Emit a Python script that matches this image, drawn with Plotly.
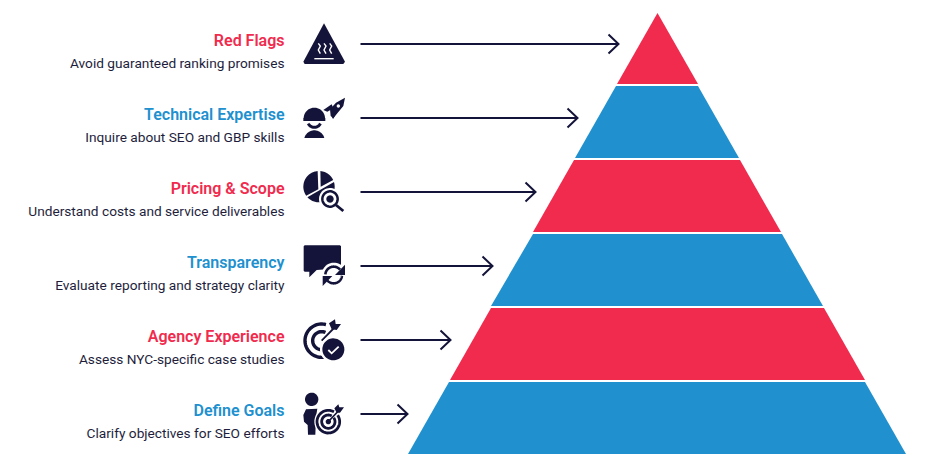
import numpy as np
import plotly.graph_objects as go

titles = ["Red Flags", "Technical Expertise", "Pricing & Scope", "Transparency", "Agency Experience", "Define Goals"]
subtitles = ["Avoid guaranteed ranking promises", "Inquire about SEO and GBP skills",
             "Understand costs and service deliverables", "Evaluate reporting and strategy clarity",
             "Assess NYC-specific case studies", "Clarify objectives for SEO efforts"]
level_top = [13, 86, 160, 234, 308, 382]
level_bottom = [84, 158, 232, 306, 380, 454]
left_top = [657.5, 616, 574, 533, 491, 449]
right_top = [657.5, 698, 740, 782, 824, 865]
left_bottom = [617, 575, 533, 491, 450, 408]
right_bottom = [698, 739, 781, 823, 865, 906]
title_y = [41.5, 115.5, 189.5, 263.5, 337.5, 411.5]
sub_y = [64.5, 139, 213, 287, 361, 434.5]
arrow_y = [44, 118, 192, 266, 340, 414]
arrow_start = [360.5] * 6
arrow_tip = [618.5, 577.5, 535.5, 492.5, 450.5, 407.5]

RED, BLUE, NAVY = "#F02B4E", "#2090CF", "#14143A"
colors = [RED, BLUE, RED, BLUE, RED, BLUE]

fig = go.Figure()
for i in range(6):
    fig.add_trace(go.Scatter(
        x=[left_top[i], right_top[i], right_bottom[i], left_bottom[i]],
        y=[level_top[i], level_top[i], level_bottom[i], level_bottom[i]],
        fill="toself", fillcolor=colors[i], mode="lines", line=dict(width=0),
        name=titles[i], hoverinfo="name"))
    x, y, t = arrow_start[i], arrow_y[i], arrow_tip[i]
    fig.add_trace(go.Scatter(
        x=[x, t, None, t - 10, t, t - 10], y=[y, y, None, y - 9.5, y, y + 9.5],
        mode="lines", line=dict(color=NAVY, width=2), hoverinfo="skip"))

fig.add_trace(go.Scatter(
    x=[284.5] * 6, y=title_y, text=titles, mode="text", textposition="middle left",
    textfont=dict(family="Roboto", size=16, weight=600, color=colors), hoverinfo="skip"))
fig.add_trace(go.Scatter(
    x=[284.5] * 6, y=sub_y, text=subtitles, mode="text", textposition="middle left",
    textfont=dict(family="Roboto", size=13.7, color="#1E1E3C"), hoverinfo="skip"))

shapes = []
WHITE = "#FFFFFF"

def Z(ox, oy):
    return lambda p: (ox + p[0] / 3, oy + p[1] / 3)

def path(pts, close=True):
    return "M" + "L".join(f"{x:.2f},{y:.2f}" for x, y in pts) + ("Z" if close else "")

def fill(z, pts, c=NAVY):
    shapes.append(dict(type="path", path=path([z(p) for p in pts]), fillcolor=c,
                       line=dict(width=0), xref="x", yref="y"))

def stroke(z, pts, w, c=NAVY):
    shapes.append(dict(type="path", path=path([z(p) for p in pts], False),
                       line=dict(color=c, width=w), xref="x", yref="y"))

def arc(cx, cy, r, a0=0, a1=360, n=48):
    t = np.radians(np.linspace(a0, a1, n))
    return [(cx + r * np.cos(v), cy - r * np.sin(v)) for v in t]

def disc(z, cx, cy, r, c=NAVY):
    fill(z, arc(cx, cy, r), c)

# 1: warning triangle with heat waves
z = Z(280, 10)
fill(z, [(132, 40), (195, 155), (190, 162), (74, 162), (70, 155)])
stroke(z, [(103, 146), (161, 146)], 1.4, WHITE)
for dx in (0, 17, 34):
    stroke(z, [(115 + dx, 100), (121 + dx, 108), (115 + dx, 120), (121 + dx, 131)], 1.4, WHITE)

# 2: worker and rocket
z = Z(280, 10)
fill(z, arc(103, 325, 32, 0, 180))
fill(z, [(70, 324), (136, 324), (136, 333), (70, 333)])
stroke(z, arc(103, 332, 20, 205, 335), 3)
fill(z, arc(103, 392, 31, 15, 165))
fill(z, [(195, 263), (190, 288), (172, 310), (160, 325), (152, 318), (150, 298), (168, 278)])
fill(z, [(130, 300), (155, 283), (160, 295), (142, 305)])
stroke(z, [(158, 325), (165, 310)], 1.5)
disc(z, 175, 288, 5, WHITE)

# 3: pie and magnifier
z = Z(280, 160)
fill(z, arc(117, 80, 47, 95, 215) + [(115, 88)])
fill(z, arc(117, 80, 47, 25, 85) + [(122, 80)])
fill(z, arc(117, 80, 47, 222, 377))
disc(z, 150, 117, 33, WHITE)
stroke(z, arc(150, 117, 23), 2.5)
disc(z, 150, 117, 11)
stroke(z, [(168, 135), (190, 153)], 2.8)

# 4: speech bubble with refresh
fill(z, [(74, 256), (180, 256), (183, 259), (183, 325), (110, 330), (88, 352), (88, 335), (74, 335), (71, 332), (71, 259)])
disc(z, 162, 345, 37, WHITE)
stroke(z, arc(161, 345, 25, 40, 175), 2.6)
stroke(z, arc(161, 345, 25, 220, 355), 2.6)
fill(z, [(195, 314), (195, 345), (165, 345)])
fill(z, [(128, 378), (128, 348), (157, 348)])

# 5: target and check
z = Z(280, 310)
stroke(z, arc(125, 92, 50, 75, 290), 3.4)
stroke(z, arc(125, 92, 27, 65, 300), 3.4)
stroke(z, [(125, 92), (168, 48)], 1.8)
fill(z, [(147, 40), (165, 28), (167, 42), (183, 42), (170, 60), (155, 58)])
disc(z, 160, 118, 40, WHITE)
disc(z, 160, 118, 33)
stroke(z, [(145, 120), (155, 130), (176, 110)], 1.8, WHITE)

# 6: person and target
disc(z, 95, 268, 20)
fill(z, [(78, 298), (112, 296), (108, 320), (106, 374), (84, 374), (83, 345), (72, 335), (70, 315)])
disc(z, 145, 335, 42, WHITE)
stroke(z, arc(145, 335, 34, 60, 395), 2.8)
stroke(z, arc(145, 335, 20, 60, 395), 2.8)
disc(z, 145, 335, 8)
stroke(z, [(145, 335), (178, 300)], 1.6)
fill(z, [(163, 295), (175, 283), (178, 292), (192, 292), (180, 308), (170, 308)])

fig.update_layout(
    width=942, height=471, margin=dict(l=0, r=0, t=0, b=0), showlegend=False,
    paper_bgcolor="white", plot_bgcolor="white", shapes=shapes,
    xaxis=dict(range=[0, 942], visible=False, fixedrange=True),
    yaxis=dict(range=[471, 0], visible=False, fixedrange=True))
fig.write_html("out.html", config=dict(displayModeBar=False),
               post_script="document.body.style.margin='0';")
